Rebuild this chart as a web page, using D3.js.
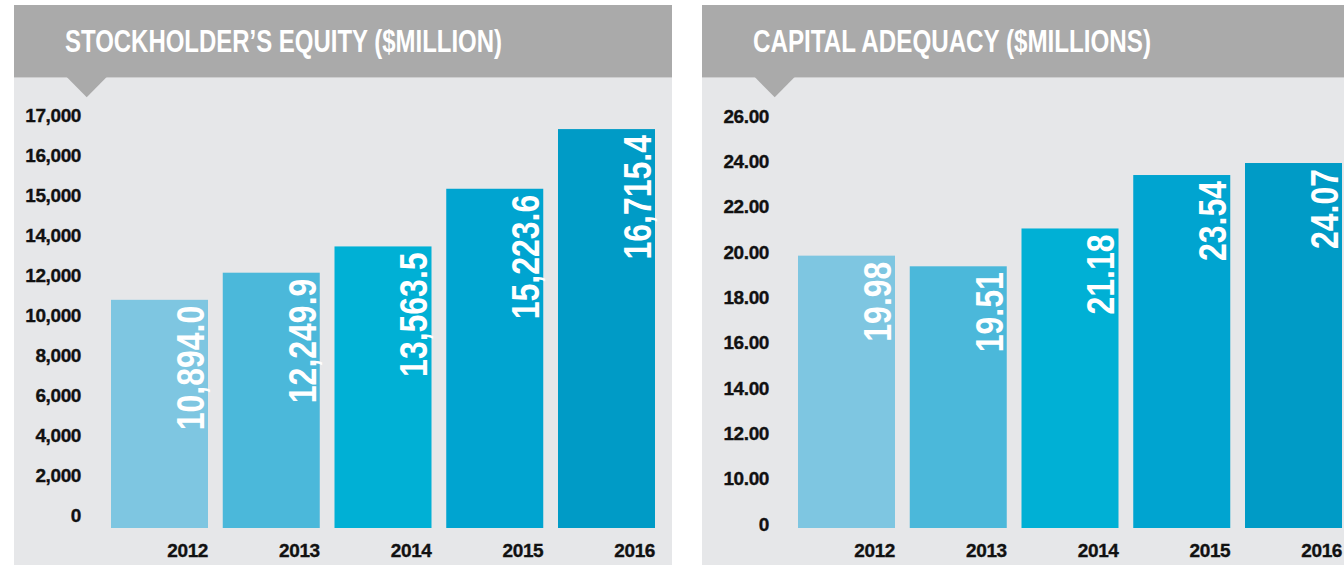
<!DOCTYPE html>
<html>
<head>
<meta charset="utf-8">
<script src="https://cdn.jsdelivr.net/npm/d3@7"></script>
<style>
  html, body { margin: 0; padding: 0; background: #fff; }
  svg { display: block; }
</style>
</head>
<body>
<script>
var years = ["2012", "2013", "2014", "2015", "2016"];
var barColours = ["#7ec6e1", "#4bb8da", "#00b0d5", "#00a4d0", "#009bc6"];

var equityTitle = "STOCKHOLDER\u2019S EQUITY ($MILLION)";
var equityValues = [10894.0, 12249.9, 13563.5, 15223.6, 16715.4];
var equityTicks = [0, 2000, 4000, 6000, 8000, 10000, 12000, 14000, 15000, 16000, 17000];

var capitalTitle = "CAPITAL ADEQUACY ($MILLIONS)";
var capitalValues = [19.98, 19.51, 21.18, 23.54, 24.07];
var capitalTicks = [0, 10, 12, 14, 16, 18, 20, 22, 24, 26];

var width = 1344, height = 565;
var headerTop = 5, headerBottom = 77.5, baseline = 528;
var bold = "'Liberation Sans', Arial, Helvetica, sans-serif";
var condense = 0.82; // squeeze Liberation Sans Bold to a narrow face

var svg = d3.select("body").append("svg")
    .attr("width", width)
    .attr("height", height);

var panels = [
  {
    x0: 14, x1: 672, title: equityTitle, titleWidth: 437,
    ticks: equityTicks, values: equityValues,
    tickFmt: d3.format(","), valueFmt: d3.format(",.1f"),
    labelRight: 81, band: [111, 655], step: 40, bottom: 517.7, shift: -2
  },
  {
    x0: 702, x1: 1344, title: capitalTitle, titleWidth: 398,
    ticks: capitalTicks, values: capitalValues,
    tickFmt: function(v) { return v === 0 ? "0" : d3.format(".2f")(v); },
    valueFmt: d3.format(".2f"),
    labelRight: 769, band: [798, 1342], step: 45.3, bottom: 527, shift: -3
  }
];

panels.forEach(function(p) {
  var g = svg.append("g");

  // body + header with the little pointer
  g.append("rect")
      .attr("x", p.x0).attr("y", headerBottom)
      .attr("width", p.x1 - p.x0).attr("height", height - headerBottom)
      .style("fill", "#e6e7e9");

  g.append("rect")
      .attr("x", p.x0).attr("y", headerTop)
      .attr("width", p.x1 - p.x0).attr("height", headerBottom - headerTop)
      .style("fill", "#aaaaaa");

  var px = p.x0 + 72.7;
  g.append("path")
      .attr("d", "M" + (px - 20) + "," + (headerBottom - 0.5) + "L" + (px + 20) + "," + (headerBottom - 0.5) + "L" + px + "," + 97.3 + "Z")
      .style("fill", "#aaaaaa");

  g.append("text")
      .attr("x", p.x0 + 51)
      .attr("y", 52)
      .attr("textLength", p.titleWidth)
      .attr("lengthAdjust", "spacingAndGlyphs")
      .style("font-family", bold)
      .style("font-weight", "bold")
      .style("font-size", "31px")
      .style("fill", "#fff")
      .text(p.title);

  // y positions: tick labels are evenly spaced, so the scale is piecewise
  var y = d3.scaleLinear()
      .domain(p.ticks)
      .range(p.ticks.map(function(d, i) { return p.bottom - i * p.step; }));

  var x = d3.scaleBand()
      .domain(years)
      .range(p.band)
      .paddingInner(0.132)
      .paddingOuter(0);

  var yAxis = g.append("g")
      .attr("transform", "translate(" + p.labelRight + "," + p.shift + ")")
      .call(d3.axisLeft(y).tickValues(p.ticks).tickFormat(p.tickFmt).tickSize(0).tickPadding(0));
  yAxis.select(".domain").remove();
  yAxis.selectAll("text")
      .style("font-family", bold)
      .style("font-weight", "bold")
      .style("font-size", "19px")
      .style("letter-spacing", "-0.4px")
      .style("fill", "#111")
      .style("stroke", "#111")
      .style("stroke-width", "0.35px");

  var xAxis = g.append("g")
      .attr("transform", "translate(0," + (baseline + 15) + ")")
      .call(d3.axisBottom(x).tickSize(0).tickPadding(0));
  xAxis.select(".domain").remove();
  xAxis.selectAll("text")
      .attr("x", x.bandwidth() / 2)
      .attr("dy", "0.71em")
      .style("text-anchor", "end")
      .style("font-family", bold)
      .style("font-weight", "bold")
      .style("font-size", "19px")
      .style("letter-spacing", "-0.4px")
      .style("fill", "#111")
      .style("stroke", "#111")
      .style("stroke-width", "0.35px");

  var bars = g.selectAll(".bar")
      .data(p.values)
      .enter().append("g")
      .attr("class", "bar");

  bars.append("rect")
      .attr("x", function(d, i) { return x(years[i]); })
      .attr("y", function(d) { return y(d); })
      .attr("width", x.bandwidth())
      .attr("height", function(d) { return baseline - y(d); })
      .style("fill", function(d, i) { return barColours[i]; });

  bars.append("text")
      .attr("transform", function(d, i) {
        return "translate(" + (x(years[i]) + x.bandwidth() - 4) + "," + (y(d) + 6) + ") rotate(-90) scale(" + condense + ",1)";
      })
      .style("text-anchor", "end")
      .style("font-family", bold)
      .style("font-weight", "bold")
      .style("font-size", "39px")
      .style("fill", "#fff")
      .text(function(d) { return p.valueFmt(d); });
});
</script>
</body>
</html>
